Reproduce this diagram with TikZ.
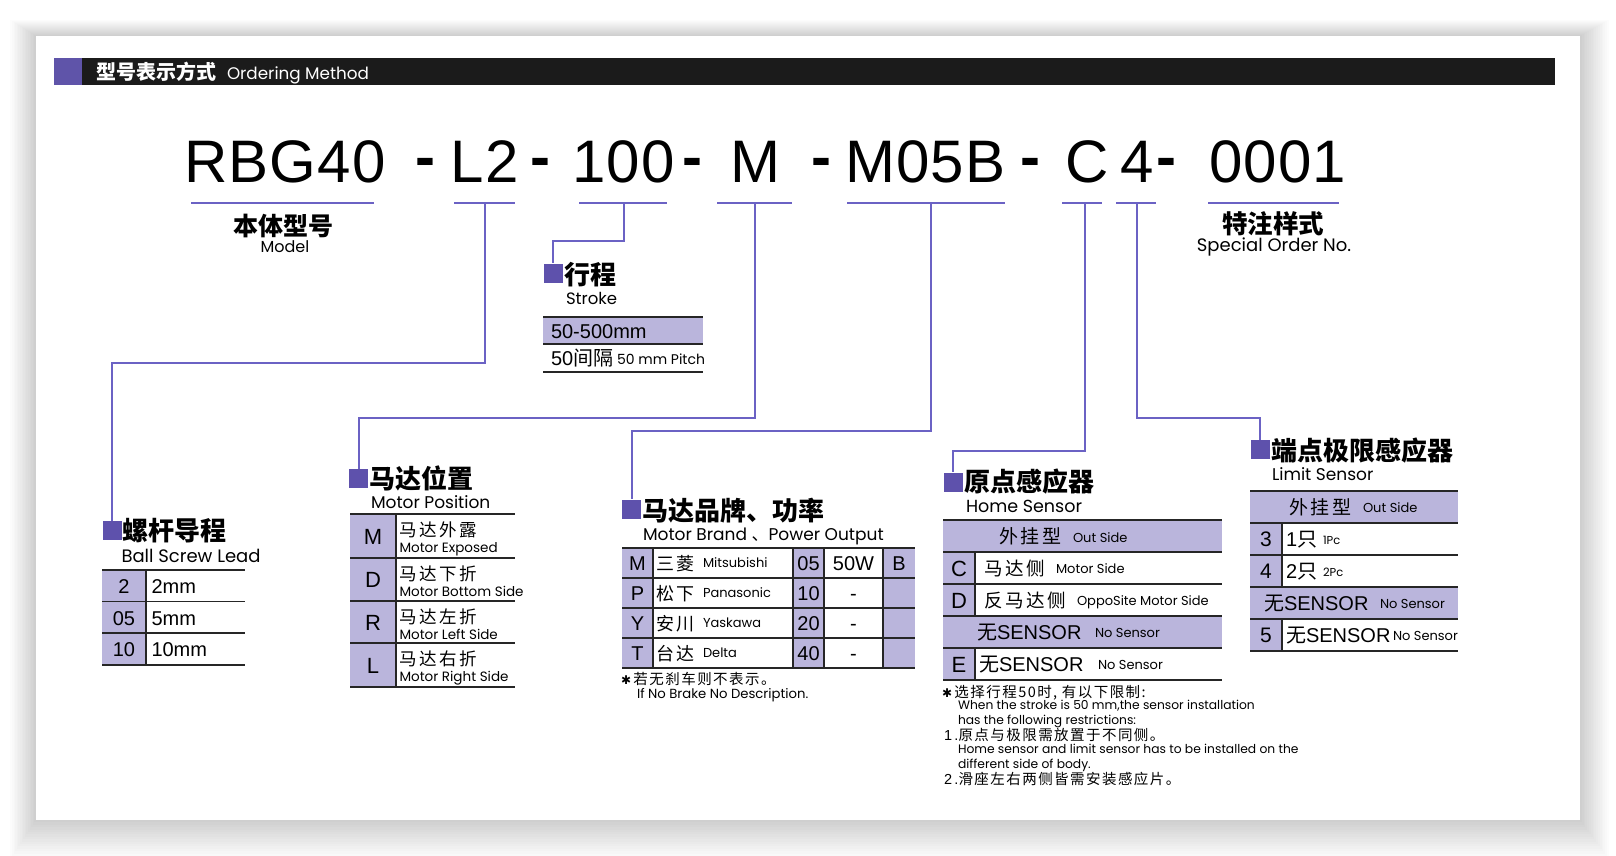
\documentclass[tikz,border=0pt]{standalone}
\usepackage{fontspec}
\setmainfont{Liberation Sans}
\newfontfamily\codef[LetterSpace=2]{Liberation Sans}
\newfontfamily\cjk{Noto Sans CJK SC}
\newfontfamily\cjkw[LetterSpace=15]{Noto Sans CJK SC}
\newfontfamily\cjkn[LetterSpace=10]{Noto Sans CJK SC}
\newfontfamily\geo{Poppins}
\newfontfamily\dejavu{DejaVu Sans}
\newcommand\FS[1]{\fontsize{#1}{#1}\selectfont}
\newcommand\astk{{\dejavu\FS{12}✱}}
\definecolor{hdrpur}{HTML}{5F54A9}
\definecolor{sqc}{HTML}{5E51AC}
\definecolor{linec}{HTML}{6B62C4}
\definecolor{lpur}{HTML}{BAB5DC}
\definecolor{rulec}{HTML}{262626}
\definecolor{barc}{HTML}{1B1B1B}
\tikzset{
  t/.style={inner sep=0pt, outer sep=0pt, anchor=base west},
  tc/.style={inner sep=0pt, outer sep=0pt, anchor=base},
  conn/.style={draw=linec, line width=2pt, line join=miter},
  uline/.style={draw=linec, line width=2pt},
  rule/.style={draw=rulec, line width=1.8pt},
  vrule/.style={draw=rulec, line width=1.5pt},
  sqn/.style={fill=sqc, draw=none, minimum size=19pt, inner sep=0pt},
  codet/.style={t, font=\FS{60}\codef},
  dasht/.style={t, font=\FS{60}\bfseries},
  head/.style={t, font=\FS{26}\cjk\bfseries},
  sub/.style={t, font=\FS{17}\geo},
  keyt/.style={tc, font=\FS{21}},
  valt/.style={t, font=\FS{20}},
  cjr/.style={t, font=\FS{18}\cjkw},
  ens/.style={t, font=\FS{13}\geo},
  note/.style={t, font=\FS{14.5}},
  noteen/.style={t, font=\FS{12.3}\geo},
}
\begin{document}
\begin{tikzpicture}[x=1pt,y=-1pt]
\useasboundingbox (0,0) rectangle (1616,856);
\fill[white] (0,0) rectangle (1616,856);
\foreach \i in {1,...,16}
  \fill[black, opacity=0.012] ({36-1.6*\i},{36-1.0*\i}) rectangle ({1580+1.8*\i},{820+2.4*\i});
\fill[white] (36,36) rectangle (1580,820);

% header
\fill[hdrpur] (54,58) rectangle (82,85);
\fill[barc] (82,58) rectangle (1555,85);
\node[t, font=\FS{20}\cjk\bfseries, text=white] (hdrcn) at (96,79.5) {型号表示方式};
\node[t, font=\FS{16.8}\geo, text=white] (hdren) at (227,80) {Ordering Method};

% code line
\node[codet] (cRBG) at (184,182) {RBG40};
\node[dasht] (d1) at (415,177) {-};
\node[codet] (cL2) at (450.5,182) {L2};
\node[dasht] (d2) at (530,177) {-};
\node[codet] (c100) at (572,182) {100};
\node[dasht] (d3) at (682,177) {-};
\node[codet] (cMM) at (730,182) {M};
\node[dasht] (d4) at (811,177) {-};
\node[codet] (cM05B) at (845,182) {M05B};
\node[dasht] (d5) at (1020,177) {-};
\node[codet] (cCC) at (1065,182) {C};
\node[codet] (c44) at (1120,182) {4};
\node[dasht] (d6) at (1156,177) {-};
\node[codet] (c0001) at (1209,182) {0001};

% underlines
\draw[uline] (191,203) -- (374,203);
\draw[uline] (454,203) -- (515,203);
\draw[uline] (579,203) -- (667,203);
\draw[uline] (717,203) -- (792,203);
\draw[uline] (847,203) -- (1005,203);
\draw[uline] (1062,203) -- (1102,203);
\draw[uline] (1116,203) -- (1156,203);
\draw[uline] (1208,203) -- (1339,203);

\coordinate (sL2) at (485,203);
\coordinate (s100) at (624,203);
\coordinate (sM) at (755,203);
\coordinate (sMotor) at (931,203);
\coordinate (sC) at (1085,203);
\coordinate (s4) at (1137,203);

% model / special labels
\node[tc, font=\FS{25}\cjk\bfseries] (modelcn) at (283,235.5) {本体型号};
\node[tc, font=\FS{16}\geo] (modelen) at (285,252.5) {Model};
\node[tc, font=\FS{25.5}\cjk\bfseries] (spcn) at (1273,233.5) {特注样式};
\node[tc, font=\FS{18}\geo] (spen) at (1274,251.5) {Special Order No.};

% squares
\node[sqn] (sqStroke) at (553,273) {};
\node[sqn] (sqLead) at (112,530.5) {};
\node[sqn] (sqPos) at (358.5,478.5) {};
\node[sqn] (sqBrand) at (631.5,509) {};
\node[sqn] (sqHome) at (953,482) {};
\node[sqn] (sqLimit) at (1260,449.5) {};

% connectors
\draw[conn] (sL2) -- ++(0,160) -| (sqLead.north);
\draw[conn] (s100) -- ++(0,38) -| (sqStroke.north);
\draw[conn] (sM) -- ++(0,215) -| (sqPos.north);
\draw[conn] (sMotor) -- ++(0,228) -| (sqBrand.north);
\draw[conn] (sC) -- ++(0,248) -| (sqHome.north);
\draw[conn] (s4) -- ++(0,215) -| (sqLimit.north);

% ---------- Stroke ----------
\node[head] (hStroke) at (564,284) {行程};
\node[sub, font=\FS{16.5}\geo] (eStroke) at (566,304) {Stroke};
\fill[lpur] (543,317) rectangle (703,344);
\foreach \y in {317,344,372} \draw[rule] (543,\y) -- (703,\y);
\node[valt] (st1) at (551,338) {50-500mm};
\node[valt] (st2) at (551,365) {50{\cjk 间隔}};
\node[ens, font=\FS{14}\geo] (st3) at (617,364) {50 mm Pitch};

% ---------- Ball screw lead ----------
\node[head] (hLead) at (122,540) {螺杆导程};
\node[sub, font=\FS{18}\geo] (eLead) at (121.5,562) {Ball Screw Lead};
\fill[lpur] (102,570) rectangle (146,665);
\foreach \y in {570,601.5,633,665} \draw[rule] (102,\y) -- (245,\y);
\draw[vrule] (146,570) -- (146,665);
\node[keyt, font=\FS{20}] (lk1) at (124,593) {2};
\node[keyt, font=\FS{20}] (lk2) at (124,625) {05};
\node[keyt, font=\FS{20}] (lk3) at (124,656.5) {10};
\node[valt] (lv1) at (151.5,593) {2mm};
\node[valt] (lv2) at (151.5,625) {5mm};
\node[valt] (lv3) at (151.5,656.5) {10mm};

% ---------- Motor position ----------
\node[head] (hPos) at (369,488.5) {马达位置};
\node[sub] (ePos) at (371,508) {Motor Position};
\fill[lpur] (350,514) rectangle (396,687);
\foreach \y in {514,558,601,643,687} \draw[rule] (350,\y) -- (515,\y);
\draw[vrule] (396,514) -- (396,687);
\node[keyt, font=\FS{22}] (pk1) at (373,544) {M};
\node[keyt, font=\FS{22}] (pk2) at (373,587.5) {D};
\node[keyt, font=\FS{22}] (pk3) at (373,630) {R};
\node[keyt, font=\FS{22}] (pk4) at (373,673) {L};
\node[cjr, font=\FS{17.5}\cjkw] (pc1) at (399,536) {马达外露};
\node[cjr, font=\FS{17.5}\cjkw] (pc2) at (399,580) {马达下折};
\node[cjr, font=\FS{17.5}\cjkw] (pc3) at (399,623) {马达左折};
\node[cjr, font=\FS{17.5}\cjkw] (pc4) at (399,665) {马达右折};
\node[ens, font=\FS{13.5}\geo] (pe1) at (399.5,552) {Motor Exposed};
\node[ens, font=\FS{13.5}\geo] (pe2) at (399.5,596) {Motor Bottom Side};
\node[ens, font=\FS{13.5}\geo] (pe3) at (399.5,639) {Motor Left Side};
\node[ens, font=\FS{13.5}\geo] (pe4) at (399.5,681) {Motor Right Side};

% ---------- Motor brand ----------
\node[head] (hBrand) at (642,520) {马达品牌、功率};
\node[sub] (eBrand) at (643,540) {Motor Brand {\cjk 、}Power Output};
\fill[lpur] (622,548) rectangle (653,668);
\fill[lpur] (793,548) rectangle (824,668);
\fill[lpur] (883,548) rectangle (915,668);
\foreach \y in {548,578,608,638,668} \draw[rule] (622,\y) -- (915,\y);
\foreach \x in {653,793,824,883} \draw[vrule] (\x,548) -- (\x,668);
\node[keyt, font=\FS{20}] (bk1) at (637.5,570) {M};
\node[keyt, font=\FS{20}] (bk2) at (637.5,600) {P};
\node[keyt, font=\FS{20}] (bk3) at (637.5,630) {Y};
\node[keyt, font=\FS{20}] (bk4) at (637.5,660) {T};
\node[cjr] (bc1) at (656,570) {三菱};
\node[cjr] (bc2) at (656,600) {松下};
\node[cjr] (bc3) at (656,630) {安川};
\node[cjr] (bc4) at (656,660) {台达};
\node[ens] (be1) at (703,567.5) {Mitsubishi};
\node[ens] (be2) at (703,597.5) {Panasonic};
\node[ens] (be3) at (703,627.5) {Yaskawa};
\node[ens] (be4) at (703,657.5) {Delta};
\node[keyt, font=\FS{20}] (bp1) at (808.5,570) {05};
\node[keyt, font=\FS{20}] (bp2) at (808.5,600) {10};
\node[keyt, font=\FS{20}] (bp3) at (808.5,630) {20};
\node[keyt, font=\FS{20}] (bp4) at (808.5,660) {40};
\node[keyt, font=\FS{20}] (bw1) at (853.5,570) {50W};
\node[keyt, font=\FS{20}] (bw2) at (853.5,600) {-};
\node[keyt, font=\FS{20}] (bw3) at (853.5,630) {-};
\node[keyt, font=\FS{20}] (bw4) at (853.5,660) {-};
\node[keyt, font=\FS{20}] (bb1) at (899,570) {B};
\node[note] (bn1) at (621,684) {\astk\,{\cjkn 若无刹车则不表示。}};
\node[ens, font=\FS{13.2}\geo] (bn2) at (637,698) {If No Brake No Description.};

% ---------- Home sensor ----------
\node[head] (hHome) at (964,491) {原点感应器};
\node[sub, font=\FS{17.5}\geo] (eHome) at (966,512) {Home Sensor};
\fill[lpur] (943,520) rectangle (1222,552);
\fill[lpur] (943,552) rectangle (975,616);
\fill[lpur] (943,616) rectangle (1222,648);
\fill[lpur] (943,648) rectangle (975,680);
\foreach \y in {520,552,584,616,648,680} \draw[rule] (943,\y) -- (1222,\y);
\draw[vrule] (975,552) -- (975,616);
\draw[vrule] (975,648) -- (975,680);
\node[cjr, font=\FS{19}\cjkw] (hr1c) at (999,543) {外挂型};
\node[ens] (hr1e) at (1073,542) {Out Side};
\node[keyt, font=\FS{22}] (hk2) at (959,576) {C};
\node[cjr, font=\FS{18.5}\cjkw] (hr2c) at (984,575) {马达侧};
\node[ens] (hr2e) at (1056,573) {Motor Side};
\node[keyt, font=\FS{22}] (hk3) at (959,608) {D};
\node[cjr, font=\FS{18.5}\cjkw] (hr3c) at (984,607) {反马达侧};
\node[ens] (hr3e) at (1077,605) {OppoSite Motor Side};
\node[valt] (hr4c) at (977,639) {{\cjk 无}SENSOR};
\node[ens] (hr4e) at (1095,637) {No Sensor};
\node[keyt, font=\FS{22}] (hk5) at (959,672) {E};
\node[valt] (hr5c) at (979,671) {{\cjk 无}SENSOR};
\node[ens] (hr5e) at (1098,669) {No Sensor};

% notes
\node[note] (hn1) at (942,697) {\astk\,{\cjkn 选择行程50时, 有以下限制:}};
\node[noteen] (hn2) at (958,709) {When the stroke is 50 mm,the sensor installation};
\node[noteen] (hn3) at (958,724) {has the following restrictions:};
\node[note] (hn4) at (944,740) {1\,.{\cjkn 原点与极限需放置于不同侧。}};
\node[noteen] (hn5) at (958,753) {Home sensor and limit sensor has to be installed on the};
\node[noteen] (hn6) at (958,768) {different side of body.};
\node[note] (hn7) at (944,784) {2\,.{\cjkn 滑座左右两侧皆需安装感应片。}};

% ---------- Limit sensor ----------
\node[head] (hLimit) at (1271,460) {端点极限感应器};
\node[sub] (eLimit) at (1272,480) {Limit Sensor};
\fill[lpur] (1250,491) rectangle (1458,523);
\fill[lpur] (1250,523) rectangle (1282,587);
\fill[lpur] (1250,587) rectangle (1458,619);
\fill[lpur] (1250,619) rectangle (1282,651);
\foreach \y in {491,523,555,587,619,651} \draw[rule] (1250,\y) -- (1458,\y);
\draw[vrule] (1282,523) -- (1282,587);
\draw[vrule] (1282,619) -- (1282,651);
\node[cjr, font=\FS{19}\cjkw] (lr1c) at (1289,514) {外挂型};
\node[ens] (lr1e) at (1363,512.5) {Out Side};
\node[keyt] (lk2b) at (1266,546.5) {3};
\node[valt] (lr2c) at (1286,546.5) {1{\cjk 只}};
\node[ens, font=\FS{11.5}\geo] (lr2e) at (1323,544) {1Pc};
\node[keyt] (lk3b) at (1266,578.5) {4};
\node[valt] (lr3c) at (1286,578.5) {2{\cjk 只}};
\node[ens, font=\FS{11.5}\geo] (lr3e) at (1323,576) {2Pc};
\node[valt] (lr4c) at (1264,610) {{\cjk 无}SENSOR};
\node[ens] (lr4e) at (1380,608) {No Sensor};
\node[keyt] (lk5b) at (1266,642.5) {5};
\node[valt] (lr5c) at (1286,642) {{\cjk 无}SENSOR};
\node[ens] (lr5e) at (1393,640) {No Sensor};
\end{tikzpicture}
\end{document}
